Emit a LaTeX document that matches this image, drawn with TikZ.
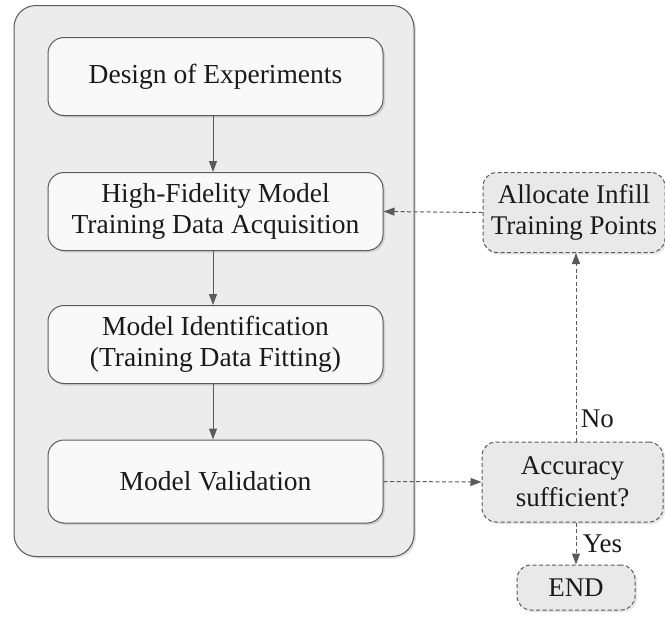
\documentclass[tikz,border=0pt]{standalone}
\usepackage{fontspec}
\setmainfont{Liberation Serif}
\usetikzlibrary{arrows.meta,shadows}
\definecolor{linec}{HTML}{5A5A5A}
\definecolor{outerfill}{HTML}{ECECEC}
\definecolor{innerfill}{HTML}{F9F9F9}
\definecolor{sidefill}{HTML}{E9E9E9}
\definecolor{txt}{HTML}{1A1A1A}
\begin{document}
\begin{tikzpicture}[x=1pt,y=-1pt,
  stepbox/.style={draw=linec, line width=1pt, fill=innerfill, rounded corners=16pt,
    minimum width=335pt, minimum height=78pt, align=center, text=txt,
    font=\fontsize{27.5}{31.5}\selectfont, drop shadow={shadow xshift=2pt, shadow yshift=-2pt, opacity=0.25}},
  sidebox/.style={draw=linec, line width=1pt, dashed, dash pattern=on 4pt off 2.5pt, fill=sidefill, rounded corners=14pt,
    align=center, text=txt, font=\fontsize{27}{31.5}\selectfont,
    drop shadow={shadow xshift=2pt, shadow yshift=-2pt, opacity=0.2}},
  solidarrow/.style={draw=linec, line width=1pt, -{Triangle[length=11pt,width=8pt]}},
  dasharrow/.style={draw=linec, line width=1pt, dash pattern=on 4pt off 2.5pt, -{Triangle[length=11pt,width=8pt]}},
  lbl/.style={text=txt, font=\fontsize{27}{31.5}\selectfont}
]
\useasboundingbox (0,0) rectangle (665,627);
\node[draw=linec, line width=1pt, fill=outerfill, rounded corners=22pt,
  minimum width=400pt, minimum height=551pt,
  drop shadow={shadow xshift=2pt, shadow yshift=-2pt, opacity=0.25}] (outer) at (214,281) {};

\node[stepbox] (doe) at (215.5,76.5) {Design of Experiments};
\node[stepbox] (hf) at (215.5,211.5) {High-Fidelity Model\\Training Data Acquisition};
\node[stepbox] (mi) at (215.5,344.5) {Model Identification\\(Training Data Fitting)};
\node[stepbox, minimum height=83pt] (mv) at (215.5,481.5) {Model Validation};

\node[sidebox, minimum width=182pt, minimum height=80pt] (alloc) at (574,212.5) {Allocate Infill\\Training Points};
\node[sidebox, minimum width=181pt, minimum height=80pt] (acc) at (572.5,482) {Accuracy\\sufficient?};
\node[sidebox, minimum width=118pt, minimum height=45pt] (end) at (576,587.5) {END};

\draw[solidarrow] (doe.south -| 213,0) -- (hf.north -| 213,0);
\draw[solidarrow] (hf.south -| 213,0) -- (mi.north -| 213,0);
\draw[solidarrow] (mi.south -| 213,0) -- (mv.north -| 213,0);

\draw[dasharrow] (mv.east) -- (acc.west);
\draw[dasharrow] (acc.north -| 576,0) -- (alloc.south -| 576,0) node[pos=0.12, anchor=west, lbl, xshift=1pt] (no) {No};
\draw[dasharrow] (alloc.west) -- (hf.east);
\draw[dasharrow] (acc.south -| 576,0) -- (end.north -| 576,0) node[midway, anchor=west, lbl, xshift=3pt] (yes) {Yes};
\end{tikzpicture}
\end{document}
